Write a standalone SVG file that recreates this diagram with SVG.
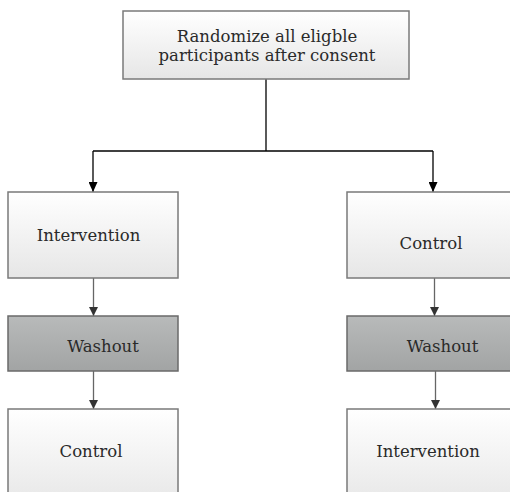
<svg xmlns="http://www.w3.org/2000/svg" width="510" height="492" viewBox="0 0 510 492">
<style>
.box{fill:url(#gLight);stroke:#7a7a7a;stroke-width:1.5}
.wash{fill:url(#gDark);stroke:#6a6a6a;stroke-width:1.5}
.t{font-family:"DejaVu Serif","Liberation Serif",serif;font-size:16.5px;fill:#2a2a2a;text-anchor:middle}
.main{stroke:#000;stroke-width:1.3;fill:none}
.sub{stroke:#666;stroke-width:1.3;fill:none}
</style>
<defs>
<linearGradient id="gLight" x1="0" y1="0" x2="0" y2="1">
<stop offset="0" stop-color="#ffffff"/>
<stop offset="1" stop-color="#e6e6e6"/>
</linearGradient>
<linearGradient id="gDark" x1="0" y1="0" x2="0" y2="1">
<stop offset="0" stop-color="#b8baba"/>
<stop offset="1" stop-color="#a2a4a4"/>
</linearGradient>
<marker id="arr" markerWidth="10" markerHeight="9" refX="10" refY="4.5" orient="auto" markerUnits="userSpaceOnUse">
<path d="M0,0 L10,4.5 L0,9 Z" fill="#000"/>
</marker>
<marker id="arr2" markerWidth="9" markerHeight="9" refX="9" refY="4.5" orient="auto" markerUnits="userSpaceOnUse">
<path d="M0,0 L9,4.5 L0,9 Z" fill="#333"/>
</marker>
</defs>
<rect width="510" height="492" fill="#fff"/>
<g id="connectors">
<path class="main" d="M266,79 V151"/>
<path class="main" d="M93,151 H433"/>
<path class="main" d="M93,151 V192" marker-end="url(#arr)"/>
<path class="main" d="M433,151 V192" marker-end="url(#arr)"/>
<path class="sub" d="M93.5,278 V316" marker-end="url(#arr2)"/>
<path class="sub" d="M93.5,371 V409" marker-end="url(#arr2)"/>
<path class="sub" d="M434.5,278 V316" marker-end="url(#arr2)"/>
<path class="sub" d="M435.5,371 V409" marker-end="url(#arr2)"/>
</g>
<g id="randomize">
<rect class="box" x="123" y="11" width="286" height="68"/>
<text class="t" x="267" y="42">Randomize all eligble</text>
<text class="t" x="267" y="61">participants after consent</text>
</g>
<g id="left-intervention">
<rect class="box" x="8" y="192" width="170" height="86"/>
<text class="t" x="88.5" y="241">Intervention</text>
</g>
<g id="left-washout">
<rect class="wash" x="8" y="316" width="170" height="55"/>
<text class="t" x="103" y="352">Washout</text>
</g>
<g id="left-control">
<rect class="box" x="8" y="409" width="170" height="100"/>
<text class="t" x="91" y="457">Control</text>
</g>
<g id="right-control">
<rect class="box" x="347" y="192" width="175" height="86"/>
<text class="t" x="431" y="249">Control</text>
</g>
<g id="right-washout">
<rect class="wash" x="347" y="316" width="175" height="55"/>
<text class="t" x="442.5" y="352">Washout</text>
</g>
<g id="right-intervention">
<rect class="box" x="347" y="409" width="175" height="100"/>
<text class="t" x="428" y="457">Intervention</text>
</g>
</svg>
